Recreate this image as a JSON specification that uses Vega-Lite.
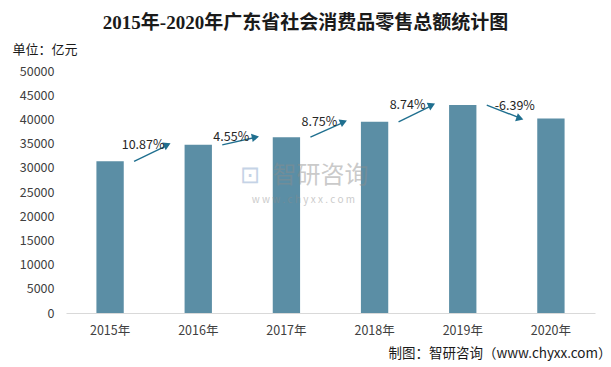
{
  "$schema": "https://vega.github.io/schema/vega-lite/v6.json",
  "width": 529,
  "height": 242,
  "autosize": {"type": "none"},
  "padding": {"left": 66, "top": 71, "right": 16, "bottom": 54},
  "background": "#ffffff",
  "config": {
    "view": {"stroke": null},
    "font": "Noto Sans CJK SC",
    "axis": {"labelFont": "Noto Sans CJK SC", "labelColor": "#404040", "titleFont": "Noto Sans CJK SC"},
    "axisY": {"tickCount": 11, "labelOverlap": false}
  },
  "title": {
    "text": "2015年-2020年广东省社会消费品零售总额统计图",
    "font": "Liberation Serif, Noto Sans CJK SC",
    "fontSize": 19,
    "fontWeight": "bold",
    "color": "#1a1a1a",
    "anchor": "middle",
    "dx": -25,
    "offset": 10
  },
  "datasets": {
    "bars": [
      {"year": "2015年", "value": 31333},
      {"year": "2016年", "value": 34739},
      {"year": "2017年", "value": 36323},
      {"year": "2018年", "value": 39501},
      {"year": "2019年", "value": 42952},
      {"year": "2020年", "value": 40208}
    ],
    "arrows": [
      {"from": "2015年", "to": "2016年", "v0": 31333, "v1": 34739, "label": "10.87%"},
      {"from": "2016年", "to": "2017年", "v0": 34739, "v1": 36323, "label": "4.55%"},
      {"from": "2017年", "to": "2018年", "v0": 36323, "v1": 39501, "label": "8.75%"},
      {"from": "2018年", "to": "2019年", "v0": 39501, "v1": 42952, "label": "8.74%"},
      {"from": "2019年", "to": "2020年", "v0": 42952, "v1": 40208, "label": "-6.39%"}
    ]
  },
  "layer": [
    {
      "data": {"name": "bars"},
      "mark": {"type": "bar", "color": "#5b8ea5"},
      "encoding": {
        "x": {
          "field": "year", "type": "nominal",
          "scale": {"paddingInner": 0.69, "paddingOuter": 0.345},
          "axis": {
            "labelAngle": 0, "labelFontSize": 12.5, "labelPadding": 11,
            "domainColor": "#d9d9d9", "ticks": false, "grid": false,
            "title": "制图：智研咨询（www.chyxx.com）",
            "titleFontSize": 13.5, "titleFontWeight": "normal", "titleColor": "#1a1a1a",
            "titleAnchor": "end", "titleAlign": "right", "titleBaseline": "bottom",
            "titleX": 545, "titleY": 47
          }
        },
        "y": {
          "field": "value", "type": "quantitative",
          "scale": {"domain": [0, 50000], "nice": false},
          "axis": {
            "values": [0, 5000, 10000, 15000, 20000, 25000, 30000, 35000, 40000, 45000, 50000],
            "tickCount": 11,
            "format": "d", "labelOverlap": false,
            "domain": false, "ticks": false, "grid": false,
            "labelFontSize": 12.5, "labelPadding": 12,
            "title": "单位：亿元", "titleAngle": 0, "titleFontSize": 13, "titleFontWeight": "normal",
            "titleColor": "#1a1a1a", "titleAlign": "left", "titleBaseline": "middle",
            "titleX": -54, "titleY": -22
          }
        }
      }
    },
    {
      "data": {"name": "bars"},
      "transform": [{"filter": "datum.year == '2017年'"}],
      "mark": {"type": "text", "text": "智研咨询", "fontSize": 24, "color": "#8c8c8c", "opacity": 0.45, "xOffset": 34, "align": "center", "baseline": "middle"},
      "encoding": {"x": {"field": "year", "type": "nominal"}, "y": {"datum": 28400}}
    },
    {
      "data": {"name": "bars"},
      "transform": [{"filter": "datum.year == '2017年'"}],
      "mark": {"type": "text", "text": "w w w . c h y x x . c o m", "fontSize": 10, "color": "#8c8c8c", "opacity": 0.45, "xOffset": 17, "align": "center", "baseline": "middle"},
      "encoding": {"x": {"field": "year", "type": "nominal"}, "y": {"datum": 23400}}
    },
    {
      "data": {"name": "bars"},
      "transform": [{"filter": "datum.year == '2017年'"}],
      "mark": {"type": "text", "text": "⊡", "fontSize": 24, "color": "#7f9fc8", "opacity": 0.45, "xOffset": -36, "align": "center", "baseline": "middle"},
      "encoding": {"x": {"field": "year", "type": "nominal"}, "y": {"datum": 28400}}
    },
    {
      "data": {"name": "arrows"},
      "mark": {"type": "rule", "color": "#1f6f8f", "strokeWidth": 1.4, "xOffset": 24, "x2Offset": -30},
      "encoding": {
        "x": {"field": "from", "type": "nominal"},
        "x2": {"field": "to"},
        "y": {"field": "v0", "type": "quantitative"},
        "y2": {"field": "v1"}
      }
    },
    {
      "data": {"name": "arrows"},
      "transform": [{"calculate": "datum.v1 - datum.v0", "as": "delta"}],
      "mark": {"type": "point", "shape": "triangle-right", "filled": true, "opacity": 1, "color": "#1f6f8f", "size": 70, "xOffset": -31},
      "encoding": {
        "x": {"field": "to", "type": "nominal"},
        "y": {"field": "v1", "type": "quantitative"},
        "angle": {"field": "delta", "type": "quantitative", "scale": {"domain": [-3000, 3500], "range": [20.6, -25.4]}, "legend": null}
      }
    },
    {
      "data": {"name": "arrows"},
      "transform": [{"filter": "datum.v1 >= datum.v0"}],
      "mark": {"type": "text", "fontSize": 12.5, "color": "#262626", "xOffset": 33, "yOffset": 0, "align": "center", "baseline": "middle"},
      "encoding": {
        "x": {"field": "from", "type": "nominal"},
        "y": {"field": "v1", "type": "quantitative"},
        "text": {"field": "label"}
      }
    },
    {
      "data": {"name": "arrows"},
      "transform": [{"filter": "datum.v1 < datum.v0"}],
      "mark": {"type": "text", "fontSize": 12.5, "color": "#262626", "xOffset": 52, "yOffset": 1, "align": "center", "baseline": "middle"},
      "encoding": {
        "x": {"field": "from", "type": "nominal"},
        "y": {"field": "v0", "type": "quantitative"},
        "text": {"field": "label"}
      }
    }
  ]
}
